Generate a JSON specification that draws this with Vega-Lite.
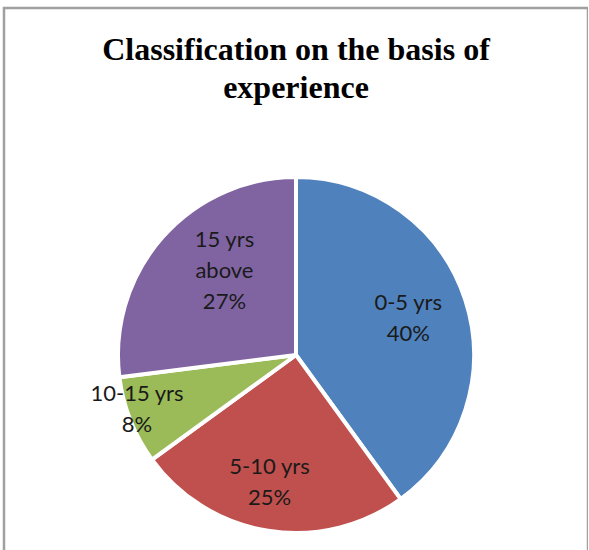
{
  "$schema": "https://vega.github.io/schema/vega-lite/v6.json",
  "width": 584,
  "height": 694,
  "padding": {"left": 4, "top": 8, "right": 0, "bottom": 0},
  "background": "white",
  "view": {"stroke": "#a0a0a0", "strokeWidth": 2.5},
  "title": {
    "text": ["Classification on the basis of", "experience"],
    "font": "Liberation Serif",
    "fontSize": 32,
    "fontWeight": "bold",
    "color": "#000000",
    "lineHeight": 38,
    "anchor": "middle",
    "offset": -97
  },
  "data": {
    "values": [
      {"category": "0-5 yrs", "label": "0-5 yrs", "pct": 40, "rank": 1},
      {"category": "5-10 yrs", "label": "5-10 yrs", "pct": 25, "rank": 2},
      {"category": "10-15 yrs", "label": "10-15 yrs", "pct": 8, "rank": 3},
      {"category": "15 yrs above", "label": "15 yrs\nabove", "pct": 27, "rank": 4}
    ]
  },
  "transform": [
    {"calculate": "datum.label + '\\n' + datum.pct + '%'", "as": "text"}
  ],
  "encoding": {
    "theta": {"field": "pct", "type": "quantitative", "stack": true},
    "order": {"field": "rank", "type": "quantitative"},
    "color": {
      "field": "category",
      "type": "nominal",
      "scale": {
        "domain": ["0-5 yrs", "5-10 yrs", "10-15 yrs", "15 yrs above"],
        "range": ["#4F81BD", "#C0504D", "#9BBB59", "#8064A2"]
      },
      "legend": null
    }
  },
  "layer": [
    {
      "mark": {"type": "arc", "outerRadius": 178, "stroke": "white", "strokeWidth": 4}
    },
    {
      "mark": {
        "type": "text",
        "radius": {"expr": "datum.category === '10-15 yrs' ? 168 : datum.category === '5-10 yrs' ? 130 : datum.category === '15 yrs above' ? 110 : 118"},
        "thetaOffset": {"expr": "datum.category === '15 yrs above' ? 0.14 : datum.category === '0-5 yrs' ? 0 : 0.048"},
        "dy": {"expr": "datum.category === '15 yrs above' ? -31 : -15.5"},
        "font": "Lato",
        "fontSize": 22,
        "lineBreak": "\n",
        "lineHeight": 31,
        "color": "#1a1a1a"
      },
      "encoding": {"text": {"field": "text"}, "color": {"value": "#1a1a1a"}}
    }
  ],
  "config": {
    "view": {"stroke": "#a0a0a0", "strokeWidth": 2.5}
  }
}
